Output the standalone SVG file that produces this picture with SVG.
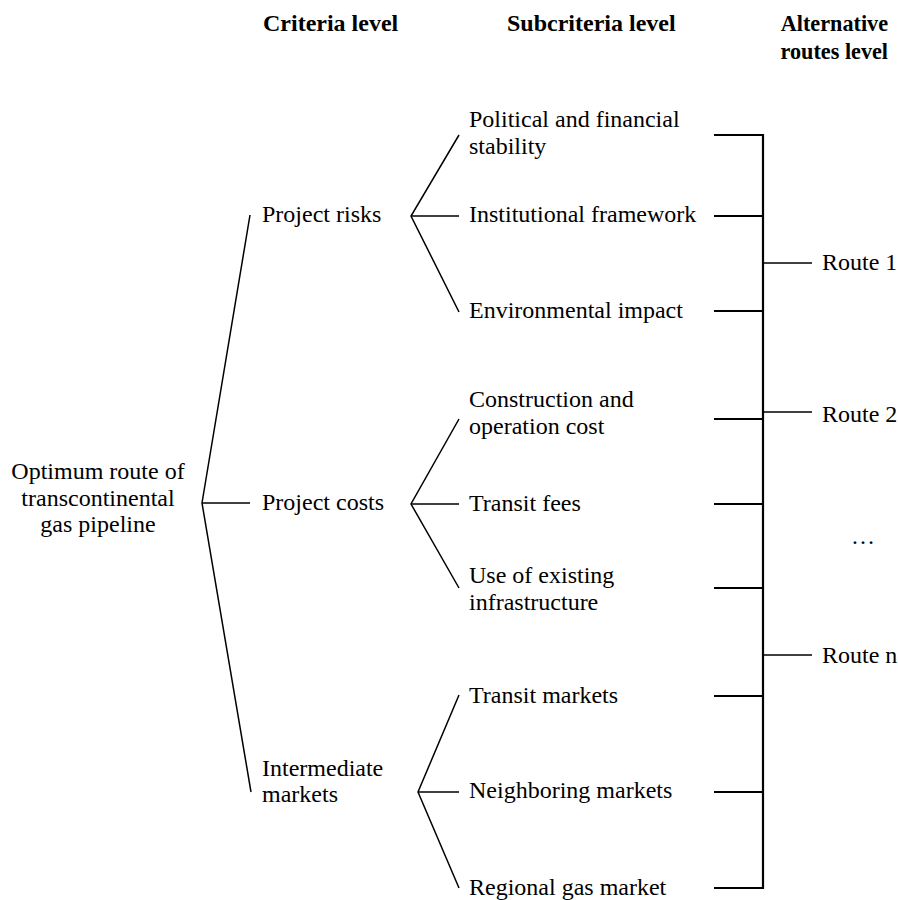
<svg xmlns="http://www.w3.org/2000/svg" width="898" height="900" viewBox="0 0 898 900">
<style>
text{font-family:"Liberation Serif","Times New Roman",serif;font-size:24px;fill:#000}
.h{font-weight:bold}
.r{font-size:22.2px}
.t{stroke:#000;stroke-width:1.5;fill:none}
.b{stroke:#000;stroke-width:2.2;fill:none}
</style>
<rect width="898" height="900" fill="#fff"/>
<g id="headers">
<text class="h" x="263" y="31">Criteria level</text>
<text class="h" x="507" y="31">Subcriteria level</text>
<text class="h r" x="888" y="31" text-anchor="end">Alternative</text>
<text class="h r" x="888" y="59" text-anchor="end">routes level</text>
</g>
<g id="connectors">
<polyline class="t" points="250,215 202,503 251,792"/>
<line class="t" x1="202" y1="503" x2="250" y2="503"/>
<polyline class="t" points="459,135 411,216 459,312"/>
<line class="t" x1="411" y1="216" x2="459" y2="216"/>
<polyline class="t" points="459,419 411,504 459,588"/>
<line class="t" x1="411" y1="504" x2="459" y2="504"/>
<polyline class="t" points="459,695 418,792 459,888"/>
<line class="t" x1="418" y1="792" x2="459" y2="792"/>
<polyline class="b" points="714,135 763,135 763,888 714,888"/>
<line class="b" x1="714" y1="216" x2="763" y2="216"/>
<line class="b" x1="714" y1="311" x2="763" y2="311"/>
<line class="b" x1="714" y1="419" x2="763" y2="419"/>
<line class="b" x1="714" y1="504" x2="763" y2="504"/>
<line class="b" x1="714" y1="588" x2="763" y2="588"/>
<line class="b" x1="714" y1="696" x2="763" y2="696"/>
<line class="b" x1="714" y1="792" x2="763" y2="792"/>
<line class="t" x1="763" y1="263" x2="812" y2="263"/>
<line class="t" x1="763" y1="412" x2="812" y2="412"/>
<line class="t" x1="763" y1="655" x2="812" y2="655"/>
</g>
<g id="root"><text x="98" y="479" text-anchor="middle">Optimum route of</text><text x="98" y="506" text-anchor="middle">transcontinental</text><text x="98" y="532" text-anchor="middle">gas pipeline</text></g>
<g id="c-risks"><text x="262" y="222">Project risks</text></g>
<g id="c-costs"><text x="262" y="510">Project costs</text></g>
<g id="c-markets"><text x="262" y="776">Intermediate</text><text x="262" y="802">markets</text></g>
<g id="s-political"><text x="469" y="127">Political and financial</text><text x="469" y="154">stability</text></g>
<g id="s-institutional"><text x="469" y="222">Institutional framework</text></g>
<g id="s-environmental"><text x="469" y="318">Environmental impact</text></g>
<g id="s-construction"><text x="469" y="407">Construction and</text><text x="469" y="434">operation cost</text></g>
<g id="s-transit-fees"><text x="469" y="511">Transit fees</text></g>
<g id="s-infrastructure"><text x="469" y="583">Use of existing</text><text x="469" y="610">infrastructure</text></g>
<g id="s-transit-markets"><text x="469" y="703">Transit markets</text></g>
<g id="s-neighboring"><text x="469" y="798">Neighboring markets</text></g>
<g id="s-regional"><text x="469" y="895">Regional gas market</text></g>
<g id="route-1"><text x="822" y="270">Route 1</text></g>
<g id="route-2"><text x="822" y="422">Route 2</text></g>
<g id="route-dots"><text x="851" y="544">…</text></g>
<g id="route-n"><text x="822" y="663">Route n</text></g>
</svg>
